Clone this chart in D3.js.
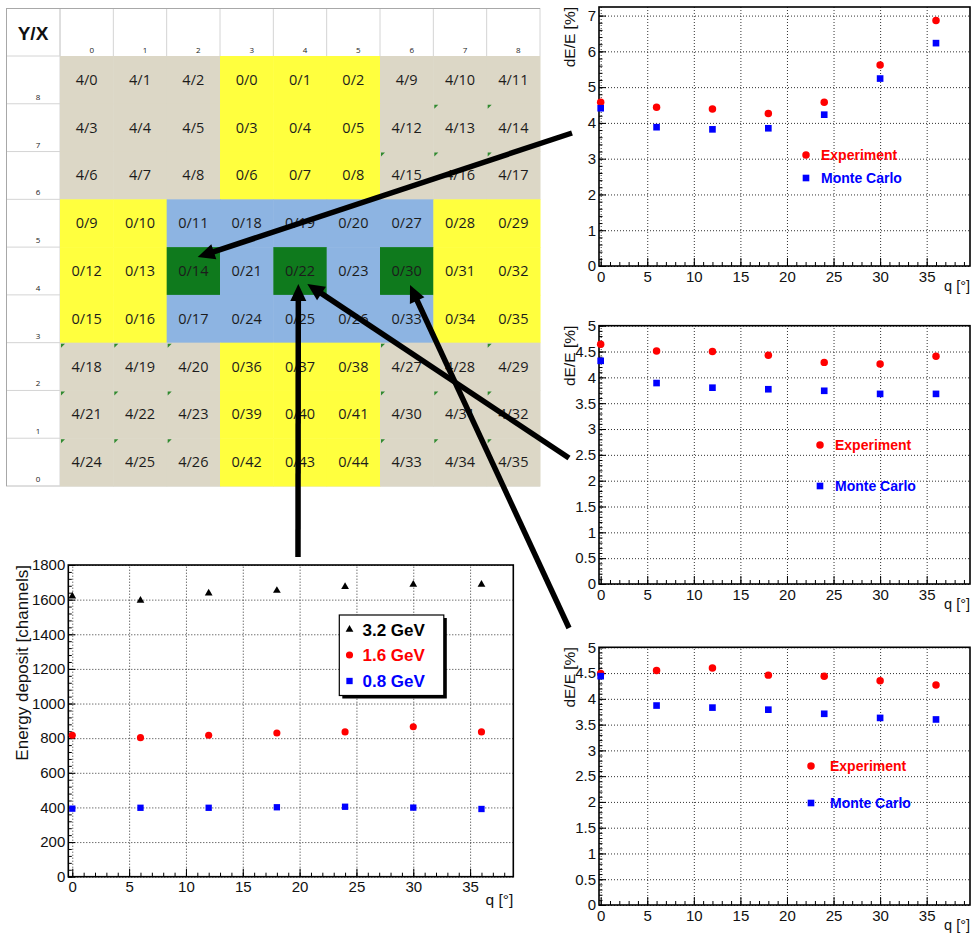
<!DOCTYPE html>
<html>
<head>
<meta charset="utf-8">
<script src="https://cdn.jsdelivr.net/npm/d3@7"></script>
<style>
	body { margin: 0; background: #fff; }
	svg { display: block; }
</style>
</head>
<body>
<svg id="fig" width="971" height="936"></svg>
<script>
// ---- data ----

const angles = [0, 6, 12, 18, 24, 30, 36];

// energy deposit vs angle, cell 0/22
const deposit32 = [1620, 1595, 1637, 1652, 1675, 1687, 1687];
const deposit16 = [817, 803, 817, 830, 836, 866, 836];
const deposit08 = [393, 398, 398, 401, 404, 399, 391];

// resolution dE/E [%] for the three marked cells
const resTopExp = [4.58, 4.44, 4.39, 4.26, 4.58, 5.62, 6.86];
const resTopMc = [4.41, 3.88, 3.82, 3.85, 4.23, 5.24, 6.23];
const resMidExp = [4.64, 4.51, 4.50, 4.43, 4.29, 4.26, 4.41];
const resMidMc = [4.32, 3.89, 3.80, 3.77, 3.74, 3.68, 3.68];
const resBotExp = [4.49, 4.55, 4.60, 4.46, 4.44, 4.35, 4.27];
const resBotMc = [4.44, 3.87, 3.83, 3.79, 3.71, 3.63, 3.60];

// detector map
const colLabels = ["0", "1", "2", "3", "4", "5", "6", "7", "8"];
const rowLabels = ["8", "7", "6", "5", "4", "3", "2", "1", "0"];
const cellLabels = [
	["4/0", "4/1", "4/2", "0/0", "0/1", "0/2", "4/9", "4/10", "4/11"],
	["4/3", "4/4", "4/5", "0/3", "0/4", "0/5", "4/12", "4/13", "4/14"],
	["4/6", "4/7", "4/8", "0/6", "0/7", "0/8", "4/15", "4/16", "4/17"],
	["0/9", "0/10", "0/11", "0/18", "0/19", "0/20", "0/27", "0/28", "0/29"],
	["0/12", "0/13", "0/14", "0/21", "0/22", "0/23", "0/30", "0/31", "0/32"],
	["0/15", "0/16", "0/17", "0/24", "0/25", "0/26", "0/33", "0/34", "0/35"],
	["4/18", "4/19", "4/20", "0/36", "0/37", "0/38", "4/27", "4/28", "4/29"],
	["4/21", "4/22", "4/23", "0/39", "0/40", "0/41", "4/30", "4/31", "4/32"],
	["4/24", "4/25", "4/26", "0/42", "0/43", "0/44", "4/33", "4/34", "4/35"]
];
const cellGroups = [
	"TTTYYYTTT", "TTTYYYTTT", "TTTYYYTTT",
	"YYBBBBBYY", "YYGBGBGYY", "YYBBBBBYY",
	"TTTYYYTTT", "TTTYYYTTT", "TTTYYYTTT"
];
// cells carrying a small spreadsheet flag [row, col]
const flaggedCells = [
	[1, 7], [1, 8], [2, 6], [2, 7], [2, 8],
	[6, 0], [6, 1], [6, 2], [6, 6], [6, 8],
	[7, 0], [7, 1], [7, 2], [7, 6], [7, 7], [7, 8],
	[8, 0], [8, 1], [8, 2], [8, 6], [8, 7], [8, 8]
];

const groupColor = { T: "#dcd7c6", Y: "#ffff3e", B: "#8db4e2", G: "#0f7a1d" };
const font = "'Liberation Sans', Arial, sans-serif";

const svg = d3.select("#fig");

// ---- detector map ----

const gx = d3.scaleBand().domain(colLabels).range([60, 540]);
const gy = d3.scaleBand().domain(rowLabels).range([56, 486]);

const sheet = svg.append("g").attr("id", "sheet");

// light spreadsheet lines
sheet.append("g")
	.selectAll("line")
	.data(d3.range(colLabels.length + 1))
	.enter()
	.append("line")
		.attr("x1", (d) => 60 + d * gx.bandwidth())
		.attr("x2", (d) => 60 + d * gx.bandwidth())
		.attr("y1", 8)
		.attr("y2", 56)
		.attr("stroke", "#d4d4d4");

sheet.append("g")
	.selectAll("line")
	.data(d3.range(rowLabels.length + 1))
	.enter()
	.append("line")
		.attr("x1", 6)
		.attr("x2", 60)
		.attr("y1", (d) => 56 + d * gy.bandwidth())
		.attr("y2", (d) => 56 + d * gy.bandwidth())
		.attr("stroke", "#d4d4d4");

sheet.append("line").attr("x1", 6).attr("x2", 540).attr("y1", 486).attr("y2", 486).attr("stroke", "#d4d4d4");
sheet.append("line").attr("x1", 60).attr("x2", 60).attr("y1", 8).attr("y2", 486).attr("stroke", "#d4d4d4");
sheet.append("line").attr("x1", 6).attr("x2", 540).attr("y1", 8.5).attr("y2", 8.5).attr("stroke", "#a8a8a8");
sheet.append("line").attr("x1", 6.5).attr("x2", 6.5).attr("y1", 8).attr("y2", 486).attr("stroke", "#a8a8a8");

const cells = [];
cellLabels.forEach((row, r) => {
	row.forEach((label, c) => {
		cells.push({ r, c, label, group: cellGroups[r][c] });
	});
});

const cellG = sheet.append("g")
	.selectAll("g")
		.data(cells)
		.enter()
		.append("g")
			.attr("transform", (d) => `translate(${gx(colLabels[d.c])},${gy(rowLabels[d.r])})`);

cellG.append("rect")
	.attr("width", gx.bandwidth() + 0.5)
	.attr("height", gy.bandwidth() + 0.5)
	.attr("fill", (d) => groupColor[d.group]);

cellG.append("text")
	.attr("x", gx.bandwidth() / 2)
	.attr("y", gy.bandwidth() / 2 + 5)
	.attr("text-anchor", "middle")
	.attr("font-family", "'Open Sans', sans-serif")
	.attr("font-size", 14.5)
	.attr("fill", "#1c1c1c")
	.text((d) => d.label);

sheet.append("g")
	.selectAll("path")
		.data(flaggedCells)
		.enter()
		.append("path")
			.attr("transform", (d) => `translate(${gx(colLabels[d[1]]) + 1},${gy(rowLabels[d[0]]) + 1})`)
			.attr("d", "M0,0L4,0L0,4Z")
			.attr("fill", "#2f8a2f");

sheet.append("g")
	.selectAll("text")
		.data(colLabels)
		.enter()
		.append("text")
			.attr("x", (d) => gx(d) + gx.bandwidth() / 2 + 5)
			.attr("y", 53)
			.attr("text-anchor", "middle")
			.attr("font-family", "'Open Sans', sans-serif")
			.attr("font-size", 8)
			.attr("fill", "#222")
			.text((d) => d);

sheet.append("g")
	.selectAll("text")
		.data(rowLabels)
		.enter()
		.append("text")
			.attr("x", 38)
			.attr("y", (d) => gy(d) + gy.bandwidth() - 4)
			.attr("text-anchor", "middle")
			.attr("font-family", "'Open Sans', sans-serif")
			.attr("font-size", 8)
			.attr("fill", "#222")
			.text((d) => d);

sheet.append("text")
	.attr("x", 33)
	.attr("y", 40)
	.attr("text-anchor", "middle")
	.attr("font-family", font)
	.attr("font-weight", "bold")
	.attr("font-size", 19)
	.attr("fill", "#111")
	.text("Y/X");

// ---- ROOT style panels ----

const marker = (g, shape, color, size) => {
	const sym = { circle: d3.symbolCircle, square: d3.symbolSquare, triangle: d3.symbolTriangle }[shape];
	g.attr("d", d3.symbol().type(sym).size(size)).attr("fill", color);
};

const drawPanel = (opt) => {
	const g = svg.append("g");
	const x = d3.scaleLinear().domain(opt.xDomain).range([opt.left, opt.right]);
	const y = d3.scaleLinear().domain(opt.yDomain).range([opt.bottom, opt.top]);
	const w = opt.right - opt.left;
	const h = opt.bottom - opt.top;

	const xMajor = d3.range(0, opt.xDomain[1], 5);
	const xMinor = d3.range(0, opt.xDomain[1], 1);

	const clean = (s) => {
		s.select(".domain").remove();
	};

	// dotted grid
	g.append("g")
		.attr("transform", `translate(0,${opt.bottom})`)
		.call(d3.axisBottom(x).tickValues(xMajor).tickSize(-h).tickFormat(""))
		.call(clean)
		.call((s) => s.selectAll("line").attr("stroke", "#333").attr("stroke-dasharray", "1,2"));

	g.append("g")
		.attr("transform", `translate(${opt.left},0)`)
		.call(d3.axisLeft(y).tickValues(opt.yMajor).tickSize(-w).tickFormat(""))
		.call(clean)
		.call((s) => s.selectAll("line").attr("stroke", "#333").attr("stroke-dasharray", "1,2"));

	// minor ticks
	g.append("g")
		.attr("transform", `translate(0,${opt.bottom})`)
		.call(d3.axisBottom(x).tickValues(xMinor).tickSize(-4).tickFormat(""))
		.call(clean)
		.call((s) => s.selectAll("line").attr("stroke", "#000"));

	g.append("g")
		.attr("transform", `translate(${opt.left},0)`)
		.call(d3.axisLeft(y).tickValues(opt.yMinor).tickSize(-3.5).tickFormat(""))
		.call(clean)
		.call((s) => s.selectAll("line").attr("stroke", "#000"));

	// major ticks and labels
	g.append("g")
		.attr("transform", `translate(0,${opt.bottom})`)
		.call(d3.axisBottom(x).tickValues(xMajor).tickSize(-8).tickPadding(5).tickFormat(d3.format("d")))
		.call(clean)
		.call((s) => {
			s.selectAll("line").attr("stroke", "#000");
			s.selectAll("text").attr("font-family", font).attr("font-size", opt.tickFont).attr("fill", "#111");
		});

	g.append("g")
		.attr("transform", `translate(${opt.left},0)`)
		.call(d3.axisLeft(y).tickValues(opt.yMajor).tickSize(-7).tickPadding(3).tickFormat(opt.yFormat))
		.call(clean)
		.call((s) => {
			s.selectAll("line").attr("stroke", "#000");
			s.selectAll("text").attr("font-family", font).attr("font-size", opt.tickFont).attr("fill", "#111");
		});

	// frame
	g.append("rect")
		.attr("x", opt.left)
		.attr("y", opt.top)
		.attr("width", w)
		.attr("height", h)
		.attr("fill", "none")
		.attr("stroke", "#000")
		.attr("stroke-width", 1.6);

	// points
	opt.series.forEach((s) => {
		g.append("g")
			.selectAll("path")
				.data(s.values)
				.enter()
				.append("path")
					.attr("transform", (d, i) => `translate(${x(angles[i])},${y(d)})`)
					.call(marker, s.shape, s.color, s.size);
	});

	// axis titles
	g.append("text")
		.attr("x", opt.right)
		.attr("y", opt.bottom + opt.xTitleDy)
		.attr("text-anchor", "end")
		.attr("font-family", font)
		.attr("font-size", opt.titleFont)
		.attr("fill", "#111")
		.text("q [°]");

	g.append("text")
		.attr("transform", `translate(${opt.yTitleX},${opt.top}) rotate(-90)`)
		.attr("text-anchor", "end")
		.attr("font-family", font)
		.attr("font-size", opt.yTitleFont)
		.attr("fill", "#111")
		.text(opt.yTitle);

	// legend
	const leg = opt.legend;
	if (leg.box) {
		g.append("rect")
			.attr("x", leg.box[0] + 3).attr("y", leg.box[1] + 3)
			.attr("width", leg.box[2]).attr("height", leg.box[3])
			.attr("fill", "#000");
		g.append("rect")
			.attr("x", leg.box[0]).attr("y", leg.box[1])
			.attr("width", leg.box[2]).attr("height", leg.box[3])
			.attr("fill", "#fff").attr("stroke", "#000").attr("stroke-width", 1.2);
	}
	opt.series.forEach((s, i) => {
		const ly = leg.y[i];
		g.append("path")
			.attr("transform", `translate(${leg.markerX},${ly})`)
			.call(marker, s.shape, s.color, s.size);
		g.append("text")
			.attr("x", leg.textX)
			.attr("y", ly + leg.fontSize * 0.36)
			.attr("font-family", font)
			.attr("font-weight", "bold")
			.attr("font-size", leg.fontSize)
			.attr("fill", s.color)
			.text(s.name);
	});
};

const resSeries = (exp, mc) => [
	{ name: "Experiment", values: exp, shape: "circle", color: "#ff0000", size: 44 },
	{ name: "Monte Carlo", values: mc, shape: "square", color: "#0000ff", size: 44 }
];

const rightFrame = { left: 599, right: 970, xDomain: [-0.18, 39.65], tickFont: 15, titleFont: 14.5, xTitleDy: 25, yTitle: "dE/E [%]", yTitleX: 575, yTitleFont: 15.5 };

drawPanel(Object.assign({}, rightFrame, {
	top: 7, bottom: 266,
	yDomain: [0, 7.24],
	yMajor: d3.range(0, 8),
	yMinor: d3.range(0, 36).map((d) => d * 0.2),
	yFormat: d3.format("d"),
	series: resSeries(resTopExp, resTopMc),
	legend: { markerX: 806, textX: 821, y: [155, 178], fontSize: 14 }
}));

drawPanel(Object.assign({}, rightFrame, {
	top: 325.7, bottom: 584,
	yDomain: [0, 5],
	yMajor: d3.ticks(0, 5, 10),
	yMinor: d3.ticks(0, 5, 50),
	yFormat: d3.format("~g"),
	series: resSeries(resMidExp, resMidMc),
	legend: { markerX: 820, textX: 835, y: [445, 486], fontSize: 14 }
}));

drawPanel(Object.assign({}, rightFrame, {
	top: 647.3, bottom: 905,
	yDomain: [0, 5],
	yMajor: d3.ticks(0, 5, 10),
	yMinor: d3.ticks(0, 5, 50),
	yFormat: d3.format("~g"),
	series: resSeries(resBotExp, resBotMc),
	legend: { markerX: 811, textX: 830, y: [766, 803], fontSize: 14 }
}));

drawPanel({
	left: 68.3, right: 513.3, top: 565, bottom: 876.7,
	xDomain: [-0.35, 38.8],
	yDomain: [0, 1800],
	yMajor: d3.range(0, 1801, 200),
	yMinor: d3.range(0, 1800, 40),
	yFormat: d3.format("d"),
	tickFont: 15, titleFont: 15.5, xTitleDy: 28,
	yTitle: "Energy deposit [channels]", yTitleX: 28, yTitleFont: 17,
	series: [
		{ name: "3.2 GeV", values: deposit32, shape: "triangle", color: "#000000", size: 26 },
		{ name: "1.6 GeV", values: deposit16, shape: "circle", color: "#ff0000", size: 40 },
		{ name: "0.8 GeV", values: deposit08, shape: "square", color: "#0000ff", size: 40 }
	],
	legend: { box: [339.3, 615, 104.5, 80.5], markerX: 349.5, textX: 362.5, y: [629.5, 655, 681], fontSize: 17 }
});

// ---- arrows from the panels to their cells ----

const arrows = [
	{ from: [572, 133], to: [gx("2") + 31, gy("4") + 10] },
	{ from: [298, 557], to: [gx("4") + 25, gy("4") + 37] },
	{ from: [569, 458], to: [gx("4") + 34, gy("4") + 37] },
	{ from: [569, 628], to: [gx("6") + 30, gy("4") + 38] }
];

const arrowG = svg.append("g").attr("id", "arrows");
arrows.forEach((a) => {
	const dx = a.to[0] - a.from[0];
	const dy = a.to[1] - a.from[1];
	const len = Math.hypot(dx, dy);
	const ux = dx / len, uy = dy / len;
	const headLen = 17, headHalf = 8;
	const bx = a.to[0] - ux * headLen, by = a.to[1] - uy * headLen;
	arrowG.append("line")
		.attr("x1", a.from[0]).attr("y1", a.from[1])
		.attr("x2", bx + ux * 2).attr("y2", by + uy * 2)
		.attr("stroke", "#000")
		.attr("stroke-width", 5.5);
	arrowG.append("path")
		.attr("d", d3.line()([
			a.to,
			[bx - uy * headHalf, by + ux * headHalf],
			[bx + uy * headHalf, by - ux * headHalf]
		]) + "Z")
		.attr("fill", "#000");
});
</script>
</body>
</html>
